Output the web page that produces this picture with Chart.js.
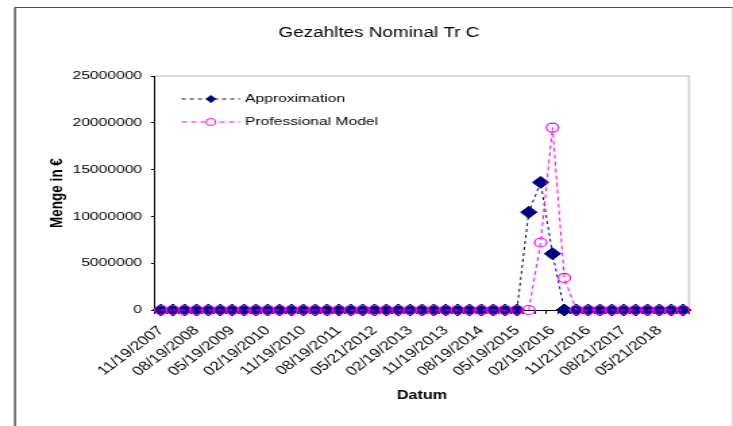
<!DOCTYPE html>
<html lang="de">
<head>
<meta charset="utf-8">
<title>Gezahltes Nominal Tr C</title>
<script src="https://cdn.jsdelivr.net/npm/chart.js@4/dist/chart.umd.min.js"></script>
<style>
    html, body {
        margin: 0;
        padding: 0;
        background: #ffffff;
        overflow: hidden;
    }

    /* Das Original ist horizontal gestreckt, daher wird die Zeichenflaeche in x-Richtung skaliert. */
    #wrap {
        width: 543px;
        height: 426px;
        transform: scaleX(1.3499);
        transform-origin: 0 0;
    }
</style>
</head>
<body>
<div id="wrap">
    <canvas id="chart" width="543" height="426"></canvas>
</div>
<script>
"use strict";

// Quartalsstichtage (nur jeder dritte wird auf der Achse beschriftet).
const dates = [
    "11/19/2007", "02/19/2008", "05/19/2008", "08/19/2008", "11/19/2008",
    "02/19/2009", "05/19/2009", "08/19/2009", "11/19/2009", "02/19/2010",
    "05/19/2010", "08/19/2010", "11/19/2010", "02/21/2011", "05/19/2011",
    "08/19/2011", "11/21/2011", "02/20/2012", "05/21/2012", "08/20/2012",
    "11/19/2012", "02/19/2013", "05/21/2013", "08/19/2013", "11/19/2013",
    "02/19/2014", "05/19/2014", "08/19/2014", "11/19/2014", "02/19/2015",
    "05/19/2015", "08/19/2015", "11/19/2015", "02/19/2016", "05/19/2016",
    "08/19/2016", "11/21/2016", "02/20/2017", "05/19/2017", "08/21/2017",
    "11/20/2017", "02/19/2018", "05/21/2018", "08/20/2018", "11/19/2018"
];

// Gezahlte Betraege in Euro je Stichtag.
const approximation = [
    0, 0, 0, 0, 0, 0, 0, 0, 0, 0,
    0, 0, 0, 0, 0, 0, 0, 0, 0, 0,
    0, 0, 0, 0, 0, 0, 0, 0, 0, 0,
    0, 10450000, 13640000, 6010000, 0, 0, 0, 0, 0, 0,
    0, 0, 0, 0, 0
];

const professionalModel = [
    0, 0, 0, 0, 0, 0, 0, 0, 0, 0,
    0, 0, 0, 0, 0, 0, 0, 0, 0, 0,
    0, 0, 0, 0, 0, 0, 0, 0, 0, 0,
    0, 0, 7210000, 19490000, 3430000, 0, 0, 0, 0, 0,
    0, 0, 0, 0, 0
];

const yTicks = [0, 5000000, 10000000, 15000000, 20000000, 25000000];

const labelEvery = 3;
const fontFamily = "'Liberation Sans', Arial, sans-serif";

// Rahmen des eingebetteten Diagramms und graue Kante der Zeichenflaeche.
const framePlugin = {
    id: "frame",
    beforeDraw(chart) {
        const ctx = chart.ctx;
        const area = chart.chartArea;

        ctx.save();
        ctx.lineWidth = 1.2;
        ctx.strokeStyle = "#4a4a4a";
        ctx.beginPath();
        ctx.moveTo(11.1, 7.5);
        ctx.lineTo(543, 7.5);
        ctx.stroke();

        ctx.strokeStyle = "#000000";
        ctx.lineWidth = 1;
        ctx.beginPath();
        ctx.moveTo(11.1, 7.5);
        ctx.lineTo(11.1, 426);
        ctx.stroke();

        ctx.strokeStyle = "#d4d4d4";
        ctx.beginPath();
        ctx.moveTo(542.3, 7.5);
        ctx.lineTo(542.3, 426);
        ctx.stroke();

        ctx.strokeStyle = "#cfcfcf";
        ctx.lineWidth = 1.6;
        ctx.beginPath();
        ctx.moveTo(area.left, area.top);
        ctx.lineTo(area.right, area.top);
        ctx.lineTo(area.right, area.bottom);
        ctx.stroke();
        ctx.restore();
    }
};

// Legende innerhalb der Zeichenflaeche, wie im Excel-Original.
const innerLegend = {
    id: "innerLegend",
    afterDatasetsDraw(chart, args, opts) {
        const ctx = chart.ctx;

        chart.data.datasets.forEach((ds, i) => {
            const y = opts.top + i * opts.rowHeight;
            const mid = opts.left + opts.lineLength / 2;

            ctx.save();
            ctx.strokeStyle = ds.borderColor;
            ctx.lineWidth = 1;
            ctx.setLineDash(ds.borderDash);
            ctx.beginPath();
            ctx.moveTo(opts.left, y);
            ctx.lineTo(opts.left + opts.lineLength, y);
            ctx.stroke();

            ctx.setLineDash([]);
            ctx.fillStyle = ds.legendFill;
            ctx.strokeStyle = ds.pointBorderColor;
            ctx.lineWidth = 1;
            Chart.helpers.drawPoint(ctx, {
                pointStyle: ds.pointStyle,
                radius: opts.markerRadius,
                rotation: 0,
                borderWidth: 1
            }, mid, y);

            ctx.fillStyle = "#000000";
            ctx.font = opts.font;
            ctx.textAlign = "left";
            ctx.textBaseline = "middle";
            ctx.fillText(ds.label, opts.left + opts.lineLength + opts.gap, y);
            ctx.restore();
        });
    }
};

const data = {
    labels: dates,
    datasets: [
        {
            label: "Approximation",
            data: approximation,
            borderColor: "#000080",
            borderWidth: 1,
            borderDash: [3, 3],
            pointStyle: "rectRot",
            pointRadius: 6,
            pointBackgroundColor: "#000080",
            pointBorderColor: "#000080",
            pointBorderWidth: 1,
            legendFill: "#000080",
            tension: 0,
            clip: false,
            order: 2
        },
        {
            label: "Professional Model",
            data: professionalModel,
            borderColor: "#ff00ff",
            borderWidth: 1,
            borderDash: [4, 3],
            pointStyle: "circle",
            pointRadius: 4.5,
            pointBackgroundColor: "rgba(255, 255, 255, 0)",
            pointBorderColor: "#ff00ff",
            pointBorderWidth: 1.2,
            legendFill: "#ffffff",
            tension: 0,
            clip: false,
            order: 1
        }
    ]
};

const config = {
    type: "line",
    data: data,
    options: {
        responsive: false,
        animation: false,
        events: [],
        layout: {
            padding: {
                left: 51,
                right: 32.6,
                top: 0,
                bottom: 0
            }
        },
        scales: {
            x: {
                type: "category",
                offset: true,
                afterFit(scale) {
                    scale.height = 116;
                },
                grid: {
                    offset: true,
                    drawOnChartArea: false,
                    drawTicks: true,
                    tickLength: 4,
                    tickColor: "#000000"
                },
                border: {
                    display: true,
                    color: "#000000",
                    width: 1
                },
                ticks: {
                    autoSkip: false,
                    minRotation: 45,
                    maxRotation: 45,
                    padding: 9,
                    color: "#000000",
                    font: { size: 12.8, family: fontFamily },
                    callback(value, index) {
                        return index % labelEvery === 0 ? this.getLabelForValue(value) : "";
                    }
                },
                title: {
                    display: true,
                    text: "Datum",
                    color: "#000000",
                    font: { size: 12, weight: "bold", family: fontFamily, lineHeight: 1.2 },
                    padding: { top: 0, bottom: 22.8 }
                }
            },
            y: {
                min: 0,
                max: 25000000,
                afterFit(scale) {
                    scale.width = 63.8;
                },
                afterBuildTicks(scale) {
                    scale.ticks = yTicks.map((v) => ({ value: v }));
                },
                grid: {
                    drawOnChartArea: false,
                    drawTicks: true,
                    tickLength: 3,
                    tickColor: "#000000"
                },
                border: {
                    display: true,
                    color: "#000000",
                    width: 1
                },
                ticks: {
                    padding: 6.5,
                    color: "#000000",
                    font: { size: 11.6, family: fontFamily },
                    callback(value) {
                        return String(value);
                    }
                },
                title: {
                    display: true,
                    text: "Menge in €",
                    color: "#000000",
                    font: { size: 13.5, weight: "bold", family: fontFamily, lineHeight: 1.2 },
                    padding: { top: -17, bottom: 0 }
                }
            }
        },
        plugins: {
            legend: { display: false },
            tooltip: { enabled: false },
            title: {
                display: true,
                text: "Gezahltes Nominal Tr C",
                color: "#000000",
                font: { size: 14, weight: "normal", family: fontFamily, lineHeight: 1.2 },
                padding: { top: 25, bottom: 34.2 }
            },
            innerLegend: {
                left: 134.6,
                top: 99,
                rowHeight: 23,
                lineLength: 43.2,
                gap: 3.7,
                markerRadius: 3.5,
                font: "11.6px " + fontFamily
            }
        }
    },
    plugins: [framePlugin, innerLegend]
};

new Chart(document.getElementById("chart"), config);
</script>
</body>
</html>
